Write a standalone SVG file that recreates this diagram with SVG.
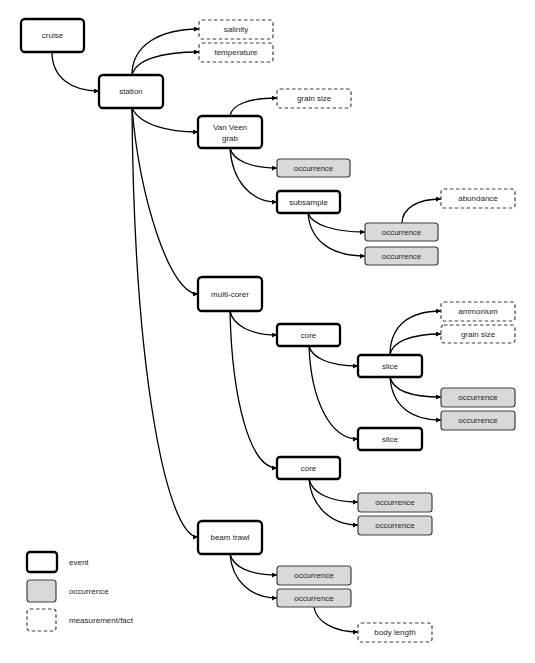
<svg xmlns="http://www.w3.org/2000/svg" width="535" height="663" viewBox="0 0 535 663">
<style>
.ev{fill:#fff;stroke:#000;stroke-width:2.3}
.oc{fill:#d9d9d9;stroke:#404040;stroke-width:1.2}
.ms{fill:#fff;stroke:#404040;stroke-width:1.2;stroke-dasharray:3.5,2.5}
text{font-family:"Liberation Sans",Arial,sans-serif;font-size:8px;fill:#262626;text-anchor:middle;dominant-baseline:central}
.lg{text-anchor:start}
.c path{fill:none;stroke:#000;stroke-width:1.3;marker-end:url(#ah)}
</style>
<defs>
<marker id="ah" viewBox="0 0 10 10" refX="10" refY="5" markerWidth="5" markerHeight="5" markerUnits="userSpaceOnUse" orient="auto">
<path d="M0,0 L10,5 L0,10 z" fill="#000"/>
</marker>
</defs>
<rect width="535" height="663" fill="#fff"/>
<g class="c" id="connectors">
<path d="M52,52 C52,78 72,91 99,91"/>
<path d="M132,75 C132,45 160,29 199,29"/>
<path d="M132,75 C136,60 160,52 199,52"/>
<path d="M132,108 C140,125 168,132 198,132"/>
<path d="M132,108 C140,200 170,294 198,294"/>
<path d="M132,108 C134,380 168,537 198,537"/>
<path d="M230,116 C232,104 250,98 277,98"/>
<path d="M230,148 C233,160 250,168 277,168"/>
<path d="M230,148 C232,180 250,202 277,202"/>
<path d="M308,213 C312,225 335,232 365,232"/>
<path d="M308,213 C310,240 330,256 365,256"/>
<path d="M402,223 C402,208 418,199 441,199"/>
<path d="M230,311 C233,325 250,335 277,335"/>
<path d="M230,311 C232,400 250,468 277,468"/>
<path d="M309,346 C312,358 330,366 358,366"/>
<path d="M309,346 C311,400 330,439 358,439"/>
<path d="M390,355 C390,325 410,311 441,311"/>
<path d="M390,355 C392,342 410,334 441,334"/>
<path d="M390,377 C393,390 410,397 441,397"/>
<path d="M390,377 C392,405 410,420 441,420"/>
<path d="M309,479 C312,493 330,502 358,502"/>
<path d="M309,479 C311,505 330,525 358,525"/>
<path d="M230,554 C233,567 250,575 277,575"/>
<path d="M230,554 C232,580 250,598 277,598"/>
<path d="M314,607 C316,622 335,632 358,632"/>
</g>
<g id="cruise"><rect class="ev" x="21" y="19" width="63" height="33" rx="4"/><text x="52.5" y="35.5">cruise</text></g>
<g id="station"><rect class="ev" x="99" y="75" width="64" height="33" rx="4"/><text x="131" y="91.5">station</text></g>
<g id="salinity"><rect class="ms" x="199" y="20" width="74" height="19" rx="3"/><text x="236" y="29.5">salinity</text></g>
<g id="temperature"><rect class="ms" x="199" y="43" width="74" height="19" rx="3"/><text x="236" y="52.5">temperature</text></g>
<g id="vanveen"><rect class="ev" x="198" y="116" width="64" height="32" rx="4"/><text x="230" y="127">Van Veen</text><text x="230" y="138">grab</text></g>
<g id="grainsize1"><rect class="ms" x="277" y="89" width="74" height="19" rx="3"/><text x="314" y="98.5">grain size</text></g>
<g id="occ_vv"><rect class="oc" x="277" y="159" width="73" height="18" rx="3"/><text x="313.5" y="168">occurrence</text></g>
<g id="subsample"><rect class="ev" x="277" y="191" width="63" height="22" rx="3"/><text x="308.5" y="202">subsample</text></g>
<g id="abundance"><rect class="ms" x="441" y="189" width="74" height="19" rx="3"/><text x="478" y="198.5">abundance</text></g>
<g id="occ_sub1"><rect class="oc" x="365" y="223" width="73" height="18" rx="3"/><text x="401.5" y="232">occurrence</text></g>
<g id="occ_sub2"><rect class="oc" x="365" y="247" width="73" height="18" rx="3"/><text x="401.5" y="256">occurrence</text></g>
<g id="multicorer"><rect class="ev" x="198" y="277" width="64" height="34" rx="4"/><text x="230" y="294">multi-corer</text></g>
<g id="core1"><rect class="ev" x="277" y="324" width="63" height="22" rx="3"/><text x="308.5" y="335">core</text></g>
<g id="ammonium"><rect class="ms" x="441" y="302" width="74" height="19" rx="3"/><text x="478" y="311.5">ammonium</text></g>
<g id="grainsize2"><rect class="ms" x="441" y="325" width="74" height="18" rx="3"/><text x="478" y="334">grain size</text></g>
<g id="slice1"><rect class="ev" x="358" y="355" width="64" height="22" rx="3"/><text x="390" y="366">slice</text></g>
<g id="occ_sl1"><rect class="oc" x="441" y="388" width="74" height="19" rx="3"/><text x="478" y="397.5">occurrence</text></g>
<g id="occ_sl2"><rect class="oc" x="441" y="411" width="74" height="19" rx="3"/><text x="478" y="420.5">occurrence</text></g>
<g id="slice2"><rect class="ev" x="358" y="428" width="64" height="22" rx="3"/><text x="390" y="439">slice</text></g>
<g id="core2"><rect class="ev" x="277" y="457" width="63" height="22" rx="3"/><text x="308.5" y="468">core</text></g>
<g id="occ_c2a"><rect class="oc" x="358" y="493" width="74" height="19" rx="3"/><text x="395" y="502.5">occurrence</text></g>
<g id="occ_c2b"><rect class="oc" x="358" y="516" width="74" height="19" rx="3"/><text x="395" y="525.5">occurrence</text></g>
<g id="beamtrawl"><rect class="ev" x="198" y="521" width="64" height="33" rx="4"/><text x="230" y="537.5">beam trawl</text></g>
<g id="occ_bt1"><rect class="oc" x="277" y="566" width="74" height="19" rx="3"/><text x="314" y="575.5">occurrence</text></g>
<g id="occ_bt2"><rect class="oc" x="277" y="589" width="74" height="18" rx="3"/><text x="314" y="598">occurrence</text></g>
<g id="bodylength"><rect class="ms" x="358" y="623" width="74" height="19" rx="3"/><text x="395" y="632.5">body length</text></g>
<g id="legend">
<rect class="ev" x="27" y="552" width="30" height="20" rx="3"/><text class="lg" x="69" y="562">event</text>
<rect class="oc" x="27" y="580" width="29" height="22" rx="3"/><text class="lg" x="69" y="591">occurrence</text>
<rect class="ms" x="27" y="609" width="29" height="22" rx="3"/><text class="lg" x="69" y="620">measurement/fact</text>
</g>
</svg>
